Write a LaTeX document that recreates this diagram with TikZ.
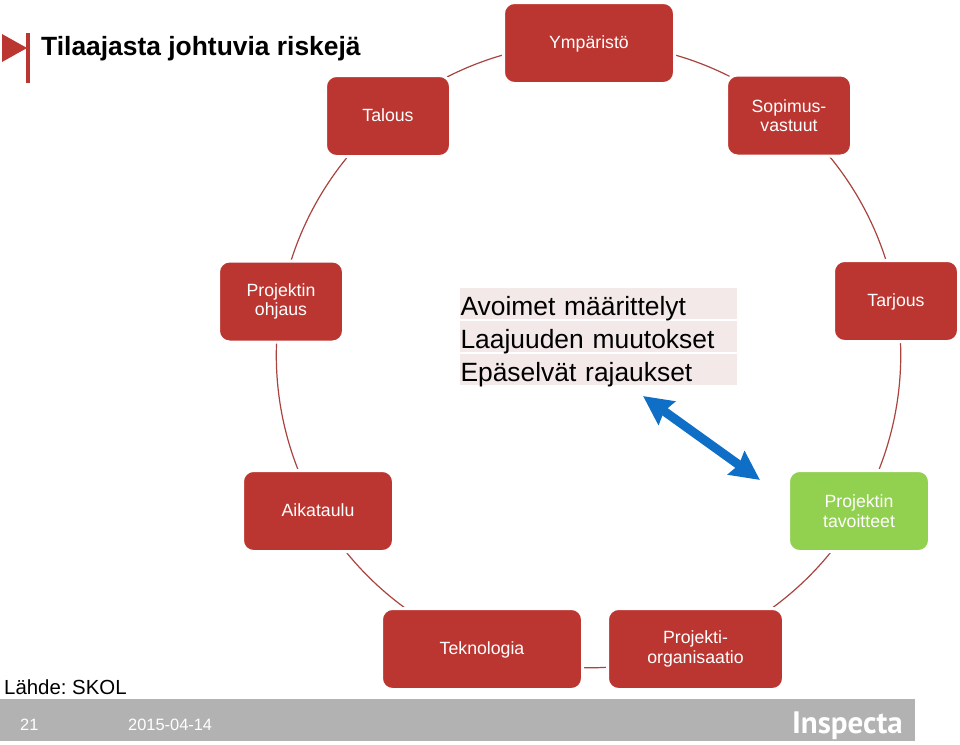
\documentclass[tikz,border=0pt]{standalone}
\usepackage{fontspec}
\setmainfont{Liberation Sans}
\newfontfamily\logofont{PT Sans}
\usetikzlibrary{arrows.meta,backgrounds}
\frenchspacing
\definecolor{riskred}{HTML}{BC3631}
\definecolor{goalgreen}{HTML}{92D050}
\definecolor{rowpink}{HTML}{F3E9E8}
\definecolor{linkred}{HTML}{A8433F}
\definecolor{footgray}{HTML}{B2B2B2}
\definecolor{arrowblue}{HTML}{0F6FC6}
\tikzset{
  box/.style={fill=riskred, draw=white, line width=3pt, rounded corners=11pt,
    minimum height=81pt, text=white, align=center, inner sep=0pt,
    font=\fontsize{17.7}{19.5}\selectfont},
  single/.style={text height=14.6pt, text depth=3.6pt},
  link/.style={draw=linkred, line width=1.2pt, bend left=20, looseness=0.88},
  row/.style={fill=rowpink, minimum width=277pt, minimum height=31pt, inner xsep=0.5pt,
    inner ysep=0pt, text width=276pt, text height=27pt, text depth=4pt,
    font=\fontsize{26.4}{30}\selectfont},
  foot/.style={text=white, inner sep=0pt, font=\fontsize{16.4}{18}\selectfont},
  arrow/.style={{Stealth[length=29pt,width=28pt,inset=3pt]}-{Stealth[length=29pt,width=28pt,inset=3pt]},
    draw=arrowblue, line width=9pt}
}
\begin{document}
\begin{tikzpicture}[x=1pt, y=-1pt]
    \useasboundingbox (0, 0) rectangle (960, 744);
    \node[box, single, minimum width=171pt] (Ymp) at (589, 43) {Ympäristö};
    \node[box, minimum width=125pt] (Sop) at (789, 115.5) {Sopimus-\\vastuut};
    \node[box, single, minimum width=125pt] (Tar) at (896, 301) {Tarjous};
    \node[box, fill=goalgreen, minimum width=141pt] (Tav) at (859, 511) {Projektin\\tavoitteet};
    \node[box, minimum width=176pt] (Org) at (695.5, 649) {Projekti-\\organisaatio};
    \node[box, single, minimum width=201pt] (Tek) at (482, 649) {Teknologia};
    \node[box, single, minimum width=151pt] (Aik) at (318, 511) {Aikataulu};
    \node[box, minimum width=125pt] (Ohj) at (281, 301.5) {Projektin\\ohjaus};
    \node[box, single, minimum width=125pt] (Tal) at (388, 116) {Talous};
    \begin{pgfonlayer}{background}
      \draw[link] (Ymp.center) to (Sop.center);
      \draw[link] (Sop.center) to (Tar.center);
      \draw[link] (Tar.center) to (Tav.center);
      \draw[link] (Tav.center) to (Org.center);
      \draw[link] (Org.center) to (Tek.center);
      \draw[link] (Tek.center) to (Aik.center);
      \draw[link] (Aik.center) to (Ohj.center);
      \draw[link] (Ohj.center) to (Tal.center);
      \draw[link] (Tal.center) to (Ymp.center);
    \end{pgfonlayer}
    \node[row] (r1) at (598.5, 303.5) {Avoimet määrittelyt};
    \node[row] (r2) at (598.5, 336.5) {Laajuuden muutokset};
    \node[row] (r3) at (598.5, 369.5) {Epäselvät rajaukset};
    \coordinate (a1) at (643, 396);
    \coordinate (a2) at (760, 480);
    \draw[arrow] (a1) to (a2);
    \fill[riskred] (2, 34) -- (27, 48) -- (2, 62) -- cycle;
    \fill[riskred] (26, 33) rectangle (30, 83);
    \node[anchor=base west, inner sep=0pt, font=\fontsize{26.4}{30}\selectfont\bfseries] (title) at (41, 55) {Tilaajasta johtuvia riskejä};
    \node[anchor=base west, inner sep=0pt, font=\fontsize{20.4}{24}\selectfont] (src) at (4, 694) {Lähde: SKOL};
    \fill[footgray] (0, 699) rectangle (915, 741);
    \node[foot, anchor=base west] (page) at (20, 730) {21};
    \node[foot, anchor=base west] (date) at (128, 730) {2015-04-14};
    \node[foot, anchor=base east, font=\fontsize{31}{34}\logofont\bfseries] (logo) at (903, 733.5) {Inspecta};
\end{tikzpicture}
\end{document}
